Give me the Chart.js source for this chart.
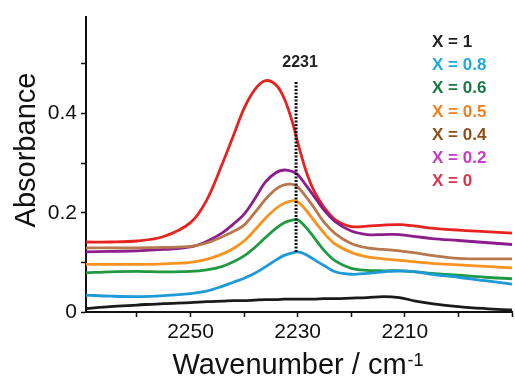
<!DOCTYPE html>
<html>
<head>
<meta charset="utf-8">
<script src="https://cdn.jsdelivr.net/npm/chart.js@4.4.1/dist/chart.umd.min.js"></script>
<style>
  html, body { margin: 0; padding: 0; background: #ffffff; }
  #wrap { width: 515px; height: 376px; }
</style>
</head>
<body>
<div id="wrap"><canvas id="c" width="515" height="376"></canvas></div>
<script>
// ---- data ----
const wavenumbers = [2269.5, 2265, 2260, 2255, 2250, 2247, 2244, 2242, 2240, 2238, 2236, 2234, 2232.5, 2231, 2230, 2228.5, 2227, 2225, 2223, 2220, 2217, 2214, 2211, 2208, 2205, 2200, 2195, 2190];

const absX1   = [0.007, 0.011, 0.014, 0.017, 0.019, 0.021, 0.022, 0.023, 0.023, 0.024, 0.025, 0.025, 0.026, 0.026, 0.026, 0.026, 0.026, 0.027, 0.027, 0.028, 0.029, 0.031, 0.029, 0.022, 0.017, 0.011, 0.007, 0.004];
const absX08  = [0.034, 0.032, 0.031, 0.033, 0.037, 0.042, 0.052, 0.060, 0.068, 0.078, 0.091, 0.105, 0.114, 0.119, 0.121, 0.116, 0.106, 0.093, 0.081, 0.076, 0.078, 0.081, 0.083, 0.081, 0.076, 0.070, 0.063, 0.056];
const absX06  = [0.079, 0.081, 0.082, 0.081, 0.082, 0.085, 0.092, 0.101, 0.113, 0.130, 0.150, 0.169, 0.180, 0.185, 0.186, 0.171, 0.151, 0.123, 0.103, 0.088, 0.084, 0.083, 0.083, 0.081, 0.078, 0.074, 0.070, 0.067];
const absX05  = [0.096, 0.096, 0.096, 0.097, 0.100, 0.106, 0.117, 0.128, 0.143, 0.165, 0.189, 0.209, 0.219, 0.224, 0.222, 0.206, 0.185, 0.158, 0.137, 0.120, 0.111, 0.107, 0.104, 0.101, 0.098, 0.095, 0.092, 0.089];
const absX04  = [0.129, 0.129, 0.129, 0.130, 0.132, 0.139, 0.152, 0.162, 0.175, 0.200, 0.227, 0.248, 0.256, 0.257, 0.252, 0.233, 0.211, 0.180, 0.158, 0.138, 0.129, 0.126, 0.123, 0.119, 0.114, 0.108, 0.107, 0.107];
const absX02  = [0.121, 0.122, 0.123, 0.126, 0.131, 0.142, 0.160, 0.177, 0.197, 0.228, 0.262, 0.281, 0.286, 0.283, 0.277, 0.256, 0.234, 0.204, 0.182, 0.163, 0.156, 0.156, 0.156, 0.152, 0.148, 0.144, 0.140, 0.136];
const absX0   = [0.141, 0.141, 0.143, 0.152, 0.180, 0.225, 0.300, 0.355, 0.410, 0.448, 0.466, 0.457, 0.430, 0.383, 0.342, 0.286, 0.245, 0.210, 0.186, 0.172, 0.173, 0.175, 0.176, 0.173, 0.169, 0.165, 0.162, 0.159];

const seriesNames   = ['X = 1', 'X = 0.8', 'X = 0.6', 'X = 0.5', 'X = 0.4', 'X = 0.2', 'X = 0'];
const seriesValues  = [absX1, absX08, absX06, absX05, absX04, absX02, absX0];
const lineColors    = ['#1a1a1a', '#1e9ad8', '#1f9a40', '#f7931e', '#b8784f', '#8c1d8c', '#e52420'];
const legendColors  = ['#222222', '#1eaadf', '#177a45', '#f47f20', '#8e5016', '#c53cc5', '#d9344f'];

const markerWavenumber = [2230.3, 2230.3];
const markerAbsorbance = [0.121, 0.466];
const markerLabel = '2231';

const xTickLabels = [2250, 2230, 2210];
const yTickLabels = [0, 0.2, 0.4];

// ---- build datasets ----
const FONT = "'Liberation Sans', Arial, Helvetica, sans-serif";
const datasets = [];
datasets.push({
  label: 'marker',
  data: markerWavenumber.map((w, i) => ({ x: w, y: markerAbsorbance[i] })),
  borderColor: '#111111',
  borderWidth: 3,
  borderDash: [2, 1.5],
  pointRadius: 0,
  tension: 0,
  fill: false,
  clip: false
});
seriesValues.forEach((vals, i) => {
  datasets.push({
    label: seriesNames[i],
    data: wavenumbers.map((w, j) => ({ x: w, y: vals[j] })),
    borderColor: lineColors[i],
    borderWidth: 2.8,
    pointRadius: 0,
    fill: false,
    tension: 0.35,
    clip: 4
  });
});

const textPlugin = {
  id: 'texts',
  afterDraw(chart) {
    const ctx = chart.ctx;
    const xs = chart.scales.x, ys = chart.scales.y;
    ctx.save();
    ctx.fillStyle = '#111';
    // y axis title
    ctx.save();
    ctx.translate(35, 150);
    ctx.rotate(-Math.PI / 2);
    ctx.font = '29px ' + FONT;
    ctx.textAlign = 'center';
    ctx.textBaseline = 'alphabetic';
    ctx.fillText('Absorbance', 0, 0);
    ctx.restore();
    // x axis title with superscript
    ctx.font = '29px ' + FONT;
    ctx.textAlign = 'left';
    ctx.textBaseline = 'alphabetic';
    const main = 'Wavenumber / cm';
    const mw = ctx.measureText(main).width;
    ctx.font = '18px ' + FONT;
    const sw = ctx.measureText('-1').width;
    const x0 = 298 - (mw + sw + 1) / 2;
    ctx.font = '29px ' + FONT;
    ctx.fillText(main, x0, 374);
    ctx.font = '18px ' + FONT;
    ctx.fillText('-1', x0 + mw + 1, 366);
    // marker label
    ctx.font = 'bold 16px ' + FONT;
    ctx.textAlign = 'center';
    ctx.textBaseline = 'middle';
    ctx.fillStyle = '#222';
    ctx.fillText(markerLabel, xs.getPixelForValue(markerWavenumber[0]) + 4, ys.getPixelForValue(markerAbsorbance[1]) - 18);
    // legend
    ctx.font = 'bold 17px ' + FONT;
    ctx.textAlign = 'left';
    ctx.textBaseline = 'middle';
    seriesNames.forEach((n, i) => {
      ctx.fillStyle = legendColors[i];
      ctx.fillText(n, 432, 42 + i * 23.3);
    });
    ctx.restore();
  }
};

new Chart(document.getElementById('c'), {
  type: 'line',
  data: { datasets },
  options: {
    responsive: false,
    animation: false,
    devicePixelRatio: 1,
    layout: { padding: { left: 0, top: 15, right: 2, bottom: 0 } },
    plugins: { legend: { display: false }, tooltip: { enabled: false } },
    scales: {
      x: {
        type: 'linear',
        reverse: true,
        min: 2190,
        max: 2269.5,
        afterFit(s) { s.height = 64; },
        ticks: {
          stepSize: 10,
          includeBounds: false,
          autoSkip: false,
          maxRotation: 0,
          padding: 3,
          color: '#111',
          font: { family: FONT, size: 21 },
          callback: (v) => xTickLabels.includes(v) ? String(v) : ''
        },
        grid: { drawOnChartArea: false, drawTicks: true, tickLength: 5, tickColor: '#111', tickWidth: 1.5 },
        border: { display: true, color: '#111', width: 2 }
      },
      y: {
        min: 0,
        max: 0.595,
        afterFit(s) { s.width = 86; },
        ticks: {
          stepSize: 0.1,
          includeBounds: false,
          padding: 4,
          color: '#111',
          font: { family: FONT, size: 21 },
          callback: (v) => {
            const r = Math.round(v * 10) / 10;
            return yTickLabels.includes(r) ? String(r) : '';
          }
        },
        grid: { drawOnChartArea: false, drawTicks: true, tickLength: 5, tickColor: '#111', tickWidth: 1.5 },
        border: { display: true, color: '#111', width: 2 }
      }
    }
  },
  plugins: [textPlugin]
});
</script>
</body>
</html>
